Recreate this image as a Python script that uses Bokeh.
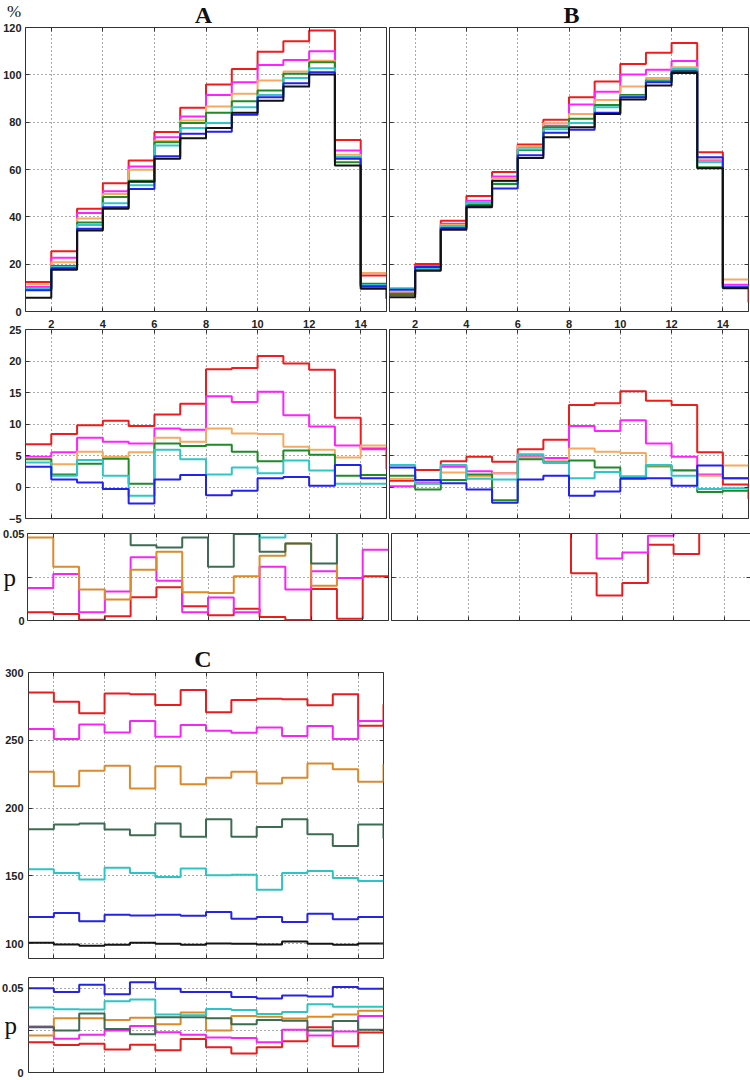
from bokeh.plotting import figure
from bokeh.layouts import column, row
from bokeh.models import FixedTicker, Range1d, LinearAxis, CustomLabelingPolicy
from bokeh.core.properties import value
from bokeh.embed import file_html
from bokeh.resources import INLINE

# ---------------- data ----------------
X = list(range(1, 16))
XTICKS = [2, 4, 6, 8, 10, 12, 14]

A_TOP_Y = [0, 20, 40, 60, 80, 100, 120]
MID_Y = [-5, 0, 5, 10, 15, 20, 25]
P_Y = [0, 0.025, 0.05]
C_Y = [100, 150, 200, 250, 300]
P_LABELS = {0: "0", 0.025: "", 0.05: "0.05"}

a_top = {
    "red":     [12.5, 25.5, 43.4, 54.2, 63.8, 75.8, 86.1, 95.9, 102.5, 109.8, 114.2, 118.7, 72.5, 15.2, 15.2],
    "magenta": [10.3, 22.7, 41.6, 50.8, 61.3, 73.6, 82.4, 91.5, 96.9, 104.2, 106.3, 110.0, 68.0, 10.3, 10.3],
    "orange":  [11.5, 20.8, 39.3, 49.6, 59.9, 72.0, 80.7, 86.6, 92.0, 97.6, 101.4, 106.0, 66.2, 16.3, 16.3],
    "green":   [9.6, 19.2, 37.6, 48.4, 55.2, 71.5, 79.6, 84.0, 88.8, 93.4, 100.5, 105.3, 63.1, 11.7, 11.7],
    "cyan":    [9.8, 18.8, 36.5, 45.7, 53.3, 70.1, 77.5, 79.6, 86.3, 91.5, 98.7, 102.8, 65.3, 11.2, 11.2],
    "blue":    [9.0, 18.3, 35.0, 44.0, 51.8, 65.6, 75.1, 76.0, 83.1, 90.5, 96.4, 101.1, 64.5, 10.7, 10.7],
    "black":   [5.8, 17.6, 34.2, 43.4, 54.8, 64.5, 73.2, 77.5, 84.0, 89.1, 95.1, 100.1, 61.7, 9.6, 5.4],
}
b_top = {
    "red":     [7.0, 20.1, 38.3, 48.8, 58.9, 70.6, 81.0, 90.5, 97.2, 104.6, 109.3, 113.5, 67.3, 10.5, 3.8],
    "magenta": [7.8, 19.2, 37.1, 46.8, 57.0, 69.6, 78.5, 87.5, 92.9, 100.1, 102.2, 105.8, 63.8, 11.3, 11.3],
    "orange":  [8.3, 18.6, 36.6, 45.8, 56.3, 69.9, 79.5, 83.5, 89.4, 95.1, 98.7, 103.2, 64.2, 13.5, 13.5],
    "green":   [7.5, 17.6, 35.6, 45.1, 53.9, 68.2, 77.8, 81.4, 87.3, 91.5, 97.6, 102.0, 61.0, 10.0, 10.0],
    "cyan":    [9.8, 18.3, 36.1, 46.0, 55.0, 68.6, 77.0, 79.6, 86.3, 91.0, 97.2, 102.5, 63.1, 10.6, 10.6],
    "blue":    [9.2, 18.8, 35.2, 44.6, 52.0, 66.0, 75.5, 76.8, 84.0, 90.5, 96.9, 101.4, 65.2, 10.2, 10.2],
    "black":   [6.0, 17.2, 34.5, 44.0, 55.2, 64.9, 73.6, 77.9, 83.5, 89.6, 95.5, 100.8, 60.5, 9.8, 9.8],
}
a_mid = {
    "red":     [6.8, 8.4, 9.8, 10.5, 9.7, 11.5, 13.2, 18.7, 18.9, 20.8, 19.6, 18.6, 11.0, 6.1, 2.8],
    "magenta": [4.8, 5.5, 7.8, 7.2, 6.9, 9.3, 9.1, 14.4, 13.5, 15.1, 11.4, 9.6, 6.6, 6.0, 6.0],
    "orange":  [4.6, 3.6, 5.6, 4.8, 5.5, 7.8, 7.2, 9.3, 8.5, 8.4, 6.4, 5.9, 4.7, 6.6, 6.6],
    "green":   [4.4, 2.0, 3.7, 4.5, 0.5, 6.9, 6.5, 6.7, 5.6, 4.1, 5.8, 5.1, 1.8, 1.9, 1.9],
    "cyan":    [3.9, 1.8, 4.3, 1.8, -1.4, 5.9, 4.4, 2.0, 3.1, 2.2, 4.2, 2.6, 0.5, 0.5, 0.5],
    "blue":    [3.2, 1.2, 0.7, -0.3, -2.6, 1.2, 1.9, -1.3, -0.6, 1.4, 1.6, 0.2, 3.5, 1.4, 1.4],
}
b_mid = {
    "red":     [1.0, 2.7, 4.1, 4.8, 4.0, 6.0, 7.5, 13.0, 13.3, 15.2, 13.7, 13.0, 5.5, 0.4, -1.9],
    "magenta": [0.1, 0.7, 3.2, 2.5, 2.2, 4.9, 4.6, 9.7, 8.9, 10.6, 6.9, 4.8, 2.0, 1.4, 1.4],
    "orange":  [1.3, 0.5, 2.3, 1.7, 2.2, 4.7, 4.1, 6.1, 5.6, 5.4, 3.2, 2.7, 1.8, 3.4, 3.4],
    "green":   [1.8, -0.4, 1.1, 2.0, -2.1, 4.4, 3.9, 4.2, 3.1, 1.6, 3.4, 2.6, -0.8, -0.6, -0.6],
    "cyan":    [3.5, 0.5, 3.5, 1.3, 1.2, 5.2, 3.8, 1.4, 2.4, 1.7, 3.5, 1.8, -0.3, -0.2, -0.2],
    "blue":    [3.1, 1.1, 0.6, -0.4, -2.5, 1.2, 1.8, -1.4, -0.7, 1.3, 1.4, 0.2, 3.4, 1.4, 1.4],
}
a_p = {
    "red":     [0.0048, 0.0038, 0.0005, 0.0025, 0.0134, 0.0191, 0.0082, 0.0030, 0.0067, 0.0020, 0.0003, 0.0181, 0.0010, 0.0254, 0.0254],
    "magenta": [0.0187, 0.0267, 0.0048, 0.0166, 0.0363, 0.0229, 0.0048, 0.0132, 0.0048, 0.0309, 0.0178, 0.0283, 0.0244, 0.0407, 0.0407],
    "orange":  [0.0477, 0.0309, 0.0178, 0.0120, 0.0292, 0.0395, 0.0162, 0.0158, 0.0254, 0.0372, 0.0443, 0.0200, 0.08, 0.08, 0.08],
    "green":   [0.08, 0.08, 0.08, 0.08, 0.0433, 0.0420, 0.0477, 0.0309, 0.0497, 0.0395, 0.0443, 0.0328, 0.08, 0.08, 0.08],
    "cyan":    [0.08, 0.08, 0.08, 0.08, 0.08, 0.08, 0.08, 0.08, 0.08, 0.0477, 0.08, 0.08, 0.08, 0.08, 0.08],
}
b_p = {
    "red":     [0.08, 0.08, 0.08, 0.08, 0.08, 0.08, 0.08, 0.0271, 0.0143, 0.0216, 0.0435, 0.0382, 0.08, 0.08, 0.08],
    "magenta": [0.08, 0.08, 0.08, 0.08, 0.08, 0.08, 0.08, 0.08, 0.0357, 0.0391, 0.0487, 0.08, 0.08, 0.08, 0.08],
}
c_main = {
    "red":     [285.3, 278.5, 269.9, 284.6, 283.9, 276.0, 287.1, 270.6, 279.7, 280.7, 280.2, 275.8, 283.9, 260.8, 276.5],
    "magenta": [258.3, 250.9, 261.7, 255.8, 264.3, 252.6, 261.2, 257.0, 255.5, 259.5, 253.1, 260.5, 250.9, 264.3, 264.3],
    "orange":  [226.8, 216.2, 227.5, 231.2, 214.4, 230.9, 217.6, 222.3, 226.8, 218.2, 222.3, 232.9, 228.7, 219.4, 232.5],
    "green":   [184.4, 187.9, 188.6, 184.2, 180.0, 188.6, 178.8, 191.8, 178.8, 186.1, 191.8, 180.7, 172.1, 187.9, 177.5],
    "cyan":    [154.9, 152.2, 147.3, 156.1, 152.2, 149.2, 155.4, 150.4, 150.9, 139.8, 152.2, 153.7, 148.5, 146.3, 146.3],
    "blue":    [119.7, 122.6, 116.5, 121.4, 120.9, 121.4, 120.7, 123.4, 118.4, 119.7, 116.0, 122.1, 118.0, 119.7, 119.7],
    "black":   [100.7, 99.5, 98.5, 99.2, 100.7, 100.0, 99.2, 100.2, 100.0, 99.5, 101.7, 100.0, 99.2, 100.2, 100.2],
}
c_p = {
    "red":     [0.0179, 0.0163, 0.0171, 0.0136, 0.0165, 0.0132, 0.0198, 0.0150, 0.0113, 0.0150, 0.0185, 0.0268, 0.0156, 0.0237, 0.0237],
    "magenta": [0.0272, 0.0200, 0.0223, 0.0249, 0.0276, 0.0239, 0.0223, 0.0208, 0.0204, 0.0180, 0.0253, 0.0220, 0.0243, 0.0335, 0.0335],
    "orange":  [0.0220, 0.0321, 0.0321, 0.0311, 0.0325, 0.0286, 0.0356, 0.0249, 0.0335, 0.0331, 0.0320, 0.0331, 0.0344, 0.0366, 0.0366],
    "green":   [0.0268, 0.0249, 0.0350, 0.0258, 0.0227, 0.0327, 0.0327, 0.0321, 0.0286, 0.0311, 0.0307, 0.0249, 0.0305, 0.0253, 0.0253],
    "cyan":    [0.0385, 0.0375, 0.0374, 0.0422, 0.0432, 0.0344, 0.0340, 0.0377, 0.0370, 0.0346, 0.0358, 0.0404, 0.0389, 0.0389, 0.0389],
    "blue":    [0.0500, 0.0477, 0.0520, 0.0463, 0.0535, 0.0496, 0.0477, 0.0477, 0.0447, 0.0438, 0.0457, 0.0451, 0.0506, 0.0496, 0.0496],
}

# ---------------- styles ----------------
LIGHT = {"red": "#ee1c1c", "magenta": "#ff22ff", "orange": "#f5aa60", "green": "#1e8a28",
         "cyan": "#2ec6c6", "blue": "#2222ee", "black": "#111111"}
DARK = {"red": "#e81e1e", "magenta": "#f426f4", "orange": "#dc8a2c", "green": "#3c6c52",
        "cyan": "#2ec4c4", "blue": "#2424e2", "black": "#151515"}

TICK_FONT = "Liberation Sans"
SERIF = "Liberation Serif"

NO_LABELS = "for (const i of indices) { indices.unset(i) }\nreturn indices"


def style_axis(ax):
    ax.axis_line_color = None
    ax.major_tick_in = 4
    ax.major_tick_out = 0
    ax.minor_tick_line_color = None
    ax.major_tick_line_color = "#333333"
    ax.major_label_text_font = TICK_FONT
    ax.major_label_text_font_style = "bold"
    ax.major_label_text_font_size = "11px"
    ax.major_label_text_color = "#222222"


def hide_labels(ax):
    ax.major_label_text_font_size = "0px"
    ax.major_label_standoff = 0
    ax.major_label_policy = CustomLabelingPolicy(code=NO_LABELS)


def tick_only_axis(p, ticks, loc):
    ax = LinearAxis(ticker=FixedTicker(ticks=ticks))
    style_axis(ax)
    hide_labels(ax)
    p.add_layout(ax, loc)


def make_fig(fw, fh, yr, yticks, bl, br, bt, bb, show_y=True, x_above=False,
             overrides=None, ystand=4):
    p = figure(frame_width=fw, frame_height=fh, x_range=Range1d(1, 15), y_range=Range1d(*yr),
               output_backend="svg", toolbar_location=None, title=None,
               x_axis_location="above" if x_above else "below",
               min_border_left=bl, min_border_right=br, min_border_top=bt, min_border_bottom=bb)
    p.background_fill_color = "white"
    p.border_fill_alpha = 0
    p.outline_line_color = "#333333"
    p.outline_line_width = 1
    p.xaxis.ticker = FixedTicker(ticks=XTICKS)
    p.yaxis.ticker = FixedTicker(ticks=yticks)
    p.xgrid.ticker = FixedTicker(ticks=XTICKS)
    p.ygrid.ticker = FixedTicker(ticks=yticks)
    for g in (p.xgrid, p.ygrid):
        g.grid_line_color = "#444444"
        g.grid_line_dash = "1 3"
        g.grid_line_alpha = 0.9
        g.grid_line_width = 1
    for ax in (p.xaxis, p.yaxis):
        style_axis(ax)
    p.yaxis.major_label_standoff = ystand
    p.xaxis.major_label_standoff = 2
    if x_above:
        tick_only_axis(p, XTICKS, "below")
    else:
        hide_labels(p.xaxis[0])
        tick_only_axis(p, XTICKS, "above")
    if not show_y:
        hide_labels(p.yaxis[0])
    tick_only_axis(p, yticks, "right")
    if overrides:
        p.yaxis.major_label_overrides = overrides
    return p


def draw(p, data, colors):
    for name, vals in data.items():
        p.step(x=X, y=vals, mode="after", line_color=colors[name], line_width=2)


def p_axis_label(p, standoff):
    ax = p.yaxis[0]
    ax.axis_label = "p"
    ax.axis_label_text_font = SERIF
    ax.axis_label_text_font_style = "normal"
    ax.axis_label_text_font_size = "25px"
    ax.axis_label_text_color = "#111111"
    ax.axis_label_standoff = standoff
    try:
        ax.axis_label_orientation = "horizontal"
    except Exception:
        pass


def header(width, height):
    h = figure(width=width, height=height, x_range=Range1d(0, width), y_range=Range1d(0, height),
               output_backend="svg", toolbar_location=None, title=None,
               min_border_left=0, min_border_right=0, min_border_top=0, min_border_bottom=0)
    h.axis.visible = False
    h.grid.visible = False
    h.outline_line_color = None
    h.background_fill_alpha = 0
    h.border_fill_alpha = 0
    return h


def title_text(h, x, y, txt, size, style="bold"):
    h.text(x=[x], y=[y], text=[txt], text_font=value(SERIF), text_font_style=style,
           text_font_size=value(size), text_align="center", text_baseline="middle",
           text_color="#111111")


AW, BW = 361, 359
AL, AR, BL, BR = 25, 1, 2, 1
TOTAL_W = AL + AW + AR + BL + BW + BR

# header with %, A, B  (28 px tall; y measured upward from its bottom)
HH1 = 28
h1 = header(TOTAL_W, HH1)
title_text(h1, 13.5, HH1 - 10.5, "%", "17px", style="normal")
title_text(h1, 203, HH1 - 14, "A", "24px")
title_text(h1, 571, HH1 - 14, "B", "24px")

# Row 1 (overlaps header by 7 px, transparent borders)
a1 = make_fig(AW, 284, (0, 120), A_TOP_Y, AL, AR, 6, 7)
draw(a1, a_top, LIGHT)
b1 = make_fig(BW, 284, (0, 120), A_TOP_Y, BL, BR, 6, 7, show_y=False)
draw(b1, b_top, LIGHT)

# Row 2
a2 = make_fig(AW, 189, (-5, 25), MID_Y, AL, AR, 15, 8, x_above=True)
draw(a2, a_mid, LIGHT)
b2 = make_fig(BW, 189, (-5, 25), MID_Y, BL, BR, 15, 8, show_y=False, x_above=True)
draw(b2, b_mid, LIGHT)

# Row 3
a3 = make_fig(AW, 87, (0, 0.05), P_Y, AL, AR, 7, 7, overrides=P_LABELS, ystand=3)
p_axis_label(a3, -16)
draw(a3, a_p, DARK)
b3 = make_fig(BW, 87, (0, 0.05), P_Y, BL, BR, 7, 7, show_y=False)
draw(b3, b_p, DARK)

# header with C (46 px tall)
CL, CW, CR = 28, 355, 2
HH2 = 46
h2 = header(CL + CW + CR, HH2)
title_text(h2, 202.5, HH2 - 31, "C", "24px")

# Row 4
c1 = make_fig(CW, 286, (89.1, 300), C_Y, CL, CR, 7, 8, ystand=5)
draw(c1, c_main, DARK)

# Row 5
c2 = make_fig(CW, 95, (0, 0.0563), P_Y, CL, CR, 11, 7, overrides=P_LABELS, ystand=5)
p_axis_label(c2, -18)
draw(c2, c_p, DARK)

layout = column(
    row(h1),
    row(a1, b1, margin=(-7, 0, 0, 0)),
    row(a2, b2, margin=(-4, 0, 0, 0)),
    row(a3, b3),
    row(h2),
    row(c1, margin=(-8, 0, 0, 0)),
    row(c2),
)

open("out.html", "w").write(file_html(layout, INLINE))
